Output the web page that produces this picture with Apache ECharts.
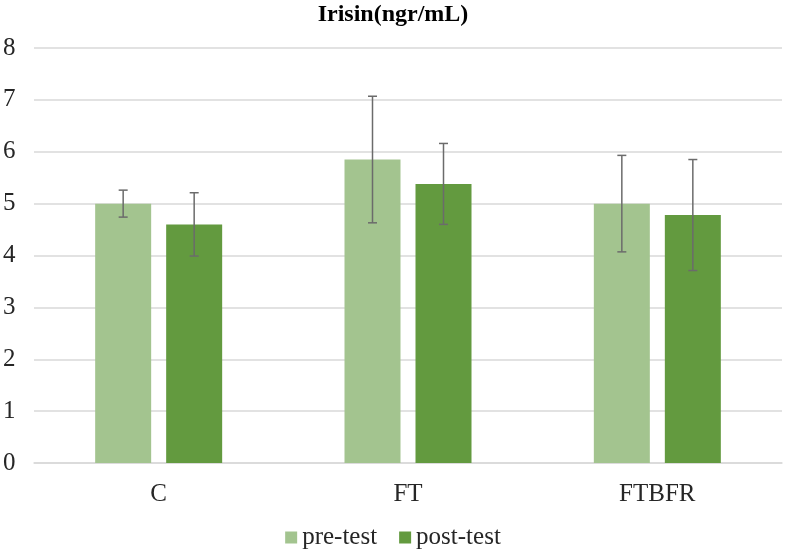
<!DOCTYPE html>
<html><head><meta charset="utf-8">
<script src="https://cdn.jsdelivr.net/npm/echarts@6/dist/echarts.min.js"></script>
<style>html,body{margin:0;padding:0;background:#fff}#c{width:786px;height:552px}</style>
</head><body><div id="c"></div>
<script>
const categories = ['C', 'FT', 'FTBFR'];
const preTest = [5.0, 5.85, 5.0];
const postTest = [4.6, 5.38, 4.78];
const preErr = [0.26, 1.22, 0.93];
const postErr = [0.61, 0.78, 1.07];
const yTicks = [0, 1, 2, 3, 4, 5, 6, 7, 8];

const chart = echarts.init(document.getElementById('c'));
const BW = 56, GAP = 15;
function errSeries(name, vals, errs, sign) {
  return {
    type: 'custom', name: name + ' err', z: 10, silent: true,
    data: vals.map((v, i) => [i, v - errs[i], v + errs[i]]),
    encode: { x: 0, y: [1, 2] },
    renderItem: function (params, api) {
      const lo = api.coord([api.value(0), api.value(1)]);
      const hi = api.coord([api.value(0), api.value(2)]);
      const x = lo[0] + sign * (BW + GAP) / 2;
      const cap = 4.5;
      const st = { stroke: '#6b6b6b', lineWidth: 1.5 };
      return { type: 'group', children: [
        { type: 'line', shape: { x1: x, y1: lo[1], x2: x, y2: hi[1] }, style: st },
        { type: 'line', shape: { x1: x - cap, y1: lo[1], x2: x + cap, y2: lo[1] }, style: st },
        { type: 'line', shape: { x1: x - cap, y1: hi[1], x2: x + cap, y2: hi[1] }, style: st }
      ]};
    }
  };
}
const FONT = 'Liberation Serif';
chart.setOption({
  animation: false,
  backgroundColor: '#fff',
  title: { text: 'Irisin(ngr/mL)', left: 'center', top: -2,
    textStyle: { fontFamily: FONT, fontWeight: 'bold', fontSize: 24, color: '#000' } },
  grid: { left: 34, right: 4, top: 48, bottom: 89 },
  legend: { top: 520, left: 'center', itemWidth: 12, itemHeight: 12, itemGap: 22,
    icon: 'rect', data: ['pre-test', 'post-test'],
    textStyle: { fontFamily: FONT, fontSize: 25, color: '#262626', padding: [0, 0, 0, 0] } },
  xAxis: { type: 'category', data: categories,
    axisLine: { lineStyle: { color: '#d9d9d9', width: 1.5 } }, axisTick: { show: false },
    axisLabel: { fontFamily: FONT, fontSize: 25, color: '#262626', margin: 19 } },
  yAxis: { type: 'value', min: yTicks[0], max: yTicks[yTicks.length - 1], interval: 1,
    axisLine: { show: false }, axisTick: { show: false },
    splitLine: { lineStyle: { color: '#d9d9d9', width: 1.5 } },
    axisLabel: { fontFamily: FONT, fontSize: 25, color: '#262626', margin: 31, align: 'left' } },
  series: [
    { name: 'pre-test', type: 'bar', data: preTest, barWidth: BW, barGap: (GAP / BW * 100) + '%',
      itemStyle: { color: '#a3c48f' } },
    { name: 'post-test', type: 'bar', data: postTest, barWidth: BW,
      itemStyle: { color: '#639a3f' } },
    errSeries('pre-test', preTest, preErr, -1),
    errSeries('post-test', postTest, postErr, 1)
  ]
});
</script></body></html>
